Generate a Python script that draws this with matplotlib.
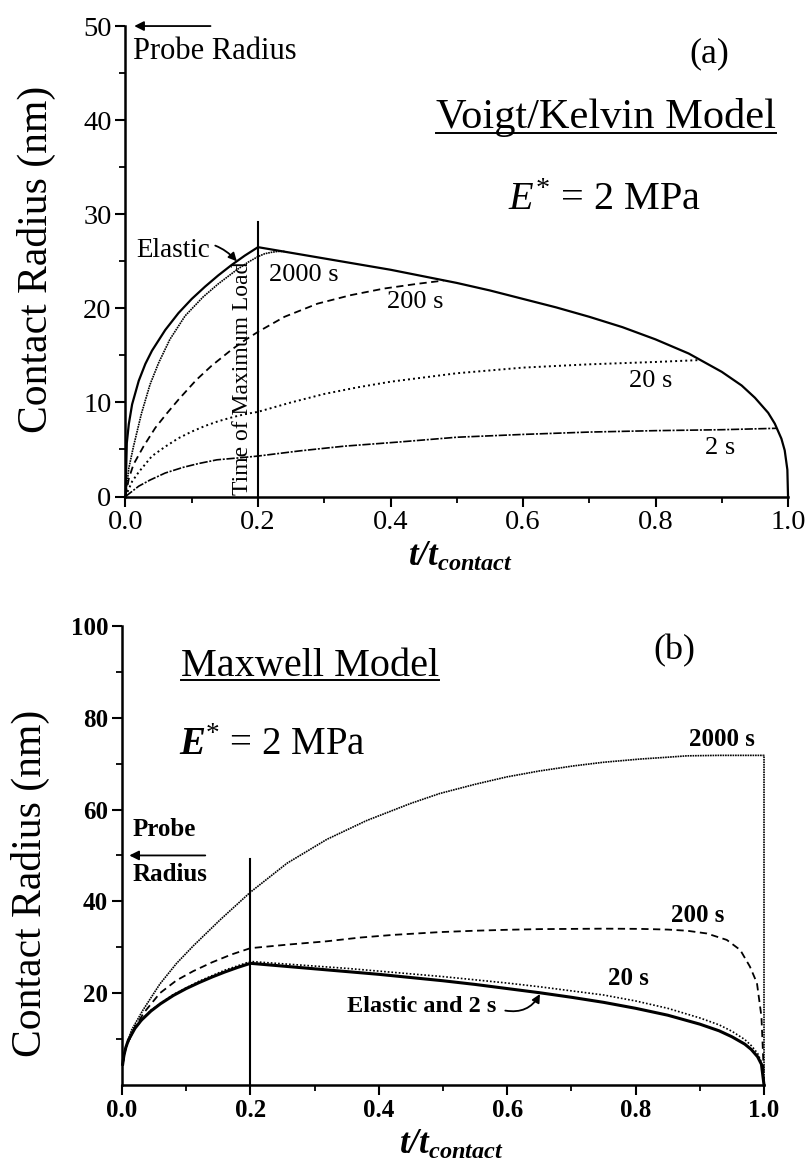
import matplotlib
matplotlib.use('Agg')
import matplotlib.pyplot as plt
from matplotlib.lines import Line2D
from matplotlib.ticker import MultipleLocator, FixedLocator

plt.rcParams['font.family'] = ['Liberation Serif', 'DejaVu Serif']
plt.rcParams['mathtext.fontset'] = 'custom'
plt.rcParams['mathtext.rm'] = 'Liberation Serif'
plt.rcParams['mathtext.it'] = 'Liberation Serif:italic'
plt.rcParams['mathtext.bf'] = 'Liberation Serif:bold'
plt.rcParams['mathtext.bfit'] = 'Liberation Serif:italic:bold'

# ---- (a) Voigt/Kelvin model ----
el_top_x = [0, 0.002, 0.005, 0.01, 0.02, 0.03, 0.04, 0.06, 0.08, 0.10,
            0.12, 0.14, 0.16, 0.18, 0.20, 0.25, 0.30, 0.35, 0.40, 0.45,
            0.50, 0.55, 0.60, 0.65, 0.70, 0.75, 0.80, 0.85, 0.90, 0.93,
            0.95, 0.97, 0.98, 0.99, 0.995, 0.999, 1.0]
el_top_y = [0, 5.7, 7.7, 9.8, 12.3, 14.1, 15.5, 17.7, 19.5, 21.0,
            22.3, 23.5, 24.6, 25.6, 26.5, 25.9, 25.3, 24.7, 24.1, 23.4,
            22.7, 21.9, 21.0, 20.1, 19.1, 18.0, 16.7, 15.2, 13.25, 11.8,
            10.5, 8.9, 7.75, 6.15, 4.9, 2.85, 0]

v2000_x = [0, 0.005, 0.012, 0.024, 0.037, 0.05, 0.067, 0.09, 0.117, 0.14,
           0.168, 0.185, 0.2, 0.21, 0.22, 0.23, 0.24]
v2000_y = [0, 3.0, 5.3, 8.8, 11.9, 14.2, 16.7, 19.2, 21.2, 22.6,
           24.1, 24.9, 25.5, 25.8, 25.95, 26.05, 26.05]

v200_x = [0, 0.005, 0.012, 0.027, 0.045, 0.062, 0.08, 0.107, 0.13, 0.16,
          0.18, 0.2, 0.24, 0.29, 0.34, 0.39, 0.44, 0.48]
v200_y = [0, 1.9, 3.4, 5.3, 7.3, 8.8, 10.3, 12.4, 13.9, 15.6,
          16.6, 17.5, 19.1, 20.5, 21.4, 22.1, 22.6, 22.95]

v20_x = [0, 0.01, 0.02, 0.04, 0.06, 0.08, 0.10, 0.12, 0.14, 0.16,
         0.18, 0.2, 0.25, 0.3, 0.35, 0.4, 0.5, 0.6, 0.7, 0.8, 0.867]
v20_y = [0, 1.6, 2.6, 4.3, 5.3, 6.2, 6.9, 7.5, 8.0, 8.4,
         8.75, 9.0, 10.0, 10.9, 11.6, 12.2, 13.1, 13.7, 14.05, 14.3, 14.5]

v2_x = [0, 0.02, 0.037, 0.06, 0.087, 0.11, 0.138, 0.17, 0.2, 0.263,
        0.33, 0.414, 0.5, 0.6, 0.7, 0.8, 0.9, 0.983]
v2_y = [0, 1.1, 1.75, 2.5, 3.1, 3.5, 3.9, 4.1, 4.3, 4.85,
        5.35, 5.8, 6.3, 6.6, 6.85, 7.0, 7.1, 7.25]

# ---- (b) Maxwell model ----
el_bot_x = [0.001, 0.003, 0.006, 0.01, 0.02, 0.03, 0.045, 0.06, 0.08, 0.10,
            0.12, 0.14, 0.16, 0.18, 0.20, 0.25, 0.30, 0.35, 0.40, 0.45,
            0.50, 0.55, 0.60, 0.65, 0.70, 0.75, 0.80, 0.85, 0.90, 0.93,
            0.95, 0.97, 0.98, 0.99, 0.996, 1.0]
el_bot_y = [4.5, 6.5, 8.2, 9.8, 12.3, 14.1, 16.1, 17.7, 19.5, 21.0,
            22.3, 23.5, 24.6, 25.6, 26.5, 25.9, 25.3, 24.7, 24.1, 23.4,
            22.7, 21.9, 21.0, 20.1, 19.1, 18.0, 16.7, 15.2, 13.25, 11.8,
            10.5, 8.9, 7.75, 6.15, 4.5, 0]

m20_x = [0.001, 0.006, 0.02, 0.045, 0.08, 0.12, 0.16, 0.20, 0.25, 0.30,
         0.35, 0.40, 0.45, 0.50, 0.55, 0.60, 0.65, 0.70, 0.75, 0.80,
         0.85, 0.90, 0.93, 0.95, 0.97, 0.98, 0.99, 0.996, 1.0]
m20_y = [4.5, 8.2, 12.4, 16.3, 19.7, 22.6, 25.0, 26.9, 26.4, 25.9,
         25.4, 24.8, 24.2, 23.6, 22.9, 22.2, 21.4, 20.5, 19.6, 18.3,
         16.7, 14.6, 13.1, 11.7, 9.9, 8.6, 6.9, 4.9, 0]

m200_x = [0.001, 0.006, 0.02, 0.035, 0.059, 0.085, 0.111, 0.14, 0.17, 0.20,
          0.26, 0.319, 0.37, 0.423, 0.495, 0.55, 0.599, 0.65, 0.703, 0.75,
          0.807, 0.85, 0.88, 0.911, 0.942, 0.963, 0.978, 0.989, 0.996, 0.999, 1.0]
m200_y = [4.5, 8.2, 12.6, 15.9, 20.0, 22.8, 24.8, 26.7, 28.4, 29.8,
          30.6, 31.3, 32.1, 32.7, 33.3, 33.6, 33.8, 33.95, 34.0, 34.05,
          34.0, 33.85, 33.6, 33.0, 31.6, 29.4, 25.8, 22.2, 14.9, 5.0, 0]

m2000_x = [0.001, 0.006, 0.015, 0.033, 0.059, 0.085, 0.111, 0.153, 0.20, 0.257,
           0.319, 0.381, 0.449, 0.495, 0.55, 0.599, 0.65, 0.703, 0.75, 0.807,
           0.85, 0.88, 0.93, 0.97, 1.0, 1.0]
m2000_y = [4.5, 8.3, 12.0, 16.4, 22.0, 26.5, 30.3, 36.0, 42.0, 48.3,
           53.5, 57.6, 61.3, 63.5, 65.5, 67.1, 68.4, 69.5, 70.3, 71.0,
           71.4, 71.7, 71.8, 71.8, 71.8, 0]

t_max_load = 0.2
probe_radius = 50
top_xticks = [0.0, 0.2, 0.4, 0.6, 0.8, 1.0]
top_yticks = [0, 10, 20, 30, 40, 50]
bot_yticks = [20, 40, 60, 80, 100]


def style_axes(ax, bold, size):
    for s in ['top', 'right']:
        ax.spines[s].set_visible(False)
    for s in ['left', 'bottom']:
        ax.spines[s].set_linewidth(1.8)
    ax.tick_params(which='major', direction='out', length=7, width=1.5,
                   labelsize=size, pad=3)
    ax.tick_params(which='minor', direction='out', length=4, width=1.3)
    ax.xaxis.set_minor_locator(MultipleLocator(0.1))
    ax.set_xticks(top_xticks)
    ax.set_xticklabels(['%.1f' % v for v in top_xticks])
    if bold:
        for lbl in ax.get_xticklabels() + ax.get_yticklabels():
            lbl.set_fontweight('bold')
    ax.set_xlim(0, 1.0)


fig = plt.figure(figsize=(8.06, 11.68), dpi=100)

# ================= panel (a) =================
ax1 = fig.add_axes([0.1557, 0.5749, 0.8220, 0.4028])
ax1.set_ylim(0, 50)
ax1.set_yticks(top_yticks)
ax1.yaxis.set_minor_locator(MultipleLocator(5))
style_axes(ax1, False, 20.5)

kw = dict(color='k', clip_on=False)
ax1.plot(el_top_x, el_top_y, lw=1.6, **kw)
ax1.plot(v2000_x, v2000_y, lw=1.2, ls=(0, (1, 0.5)), **kw)
ax1.plot(v200_x, v200_y, lw=1.3, ls=(0, (4, 2.5)), **kw)
ax1.plot(v20_x, v20_y, lw=1.4, ls=(0, (1, 1.6)), **kw)
ax1.plot(v2_x, v2_y, lw=1.2, ls=(0, (5, 1, 1.2, 1)), **kw)
ax1.plot([t_max_load, t_max_load], [0, 29.2], lw=1.5, color='k')

ax1.text(0.177, 0.2, 'Time of Maximum Load', rotation=90, ha='center',
         va='bottom', fontsize=17)
ax1.annotate('', xy=(0.009, probe_radius), xytext=(0.1325, probe_radius),
             arrowprops=dict(arrowstyle='-|>', lw=1.3, color='k',
                             mutation_scale=14), annotation_clip=False)
ax1.text(0.012, 46.5, 'Probe Radius', ha='left', va='baseline', fontsize=22)
ax1.annotate('Elastic', xy=(0.168, 25.0), xytext=(0.0717, 26.1),
             ha='center', va='center', fontsize=19.5,
             arrowprops=dict(arrowstyle='-|>', lw=1.3, color='k',
                             shrinkA=2, shrinkB=0, mutation_scale=12,
                             connectionstyle='arc3,rad=-0.4'))
ax1.text(0.2694, 23.5, '2000 s', ha='center', va='center', fontsize=19)
ax1.text(0.437, 20.7, '200 s', ha='center', va='center', fontsize=19)
ax1.text(0.7932, 12.3, '20 s', ha='center', va='center', fontsize=19)
ax1.text(0.8974, 5.15, '2 s', ha='center', va='center', fontsize=19)
ax1.text(0.881, 47.0, '(a)', ha='center', va='center', fontsize=26)
title1 = ax1.text(0.7253, 39.2, 'Voigt/Kelvin Model', ha='center',
                  va='baseline', fontsize=30.5)
ax1.text(0.7226, 30.5, r'$E^{*}$ = 2 MPa', ha='center', va='baseline',
         fontsize=29)

ax1.set_ylabel('Contact Radius (nm)', fontsize=30)
ax1.yaxis.set_label_coords(-0.105, 0.505)
ax1.set_xlabel(r'$\mathbfit{t/t}_{\mathbfit{contact}}$', fontsize=25)
ax1.xaxis.set_label_coords(0.505, -0.095)

# ================= panel (b) =================
ax2 = fig.add_axes([0.1514, 0.0711, 0.7965, 0.3930])
ax2.set_ylim(0, 100)
ax2.set_yticks(bot_yticks)
ax2.yaxis.set_minor_locator(FixedLocator([10, 30, 50, 70, 90]))
style_axes(ax2, True, 18)

ax2.plot(m2000_x, m2000_y, lw=1.2, ls=(0, (1, 0.5)), **kw)
ax2.plot(m200_x, m200_y, lw=1.3, ls=(0, (4, 2.5)), **kw)
ax2.plot(m20_x, m20_y, lw=1.2, ls=(0, (1, 1.2)), **kw)
ax2.plot(el_bot_x, el_bot_y, lw=2.2, **kw)
ax2.plot([t_max_load, t_max_load], [0, 49.2], lw=1.5, color='k')

ax2.annotate('', xy=(0.007, probe_radius), xytext=(0.134, probe_radius),
             arrowprops=dict(arrowstyle='-|>', lw=1.3, color='k',
                             mutation_scale=14), annotation_clip=False)
ax2.text(0.0171, 55.6, 'Probe', ha='left', va='center', fontsize=18,
         fontweight='bold')
ax2.text(0.0171, 45.75, 'Radius', ha='left', va='center', fontsize=18,
         fontweight='bold')
ax2.text(0.9346, 75.3, '2000 s', ha='center', va='center', fontsize=18,
         fontweight='bold')
ax2.text(0.8964, 36.9, '200 s', ha='center', va='center', fontsize=18,
         fontweight='bold')
ax2.text(0.789, 23.2, '20 s', ha='center', va='center', fontsize=18,
         fontweight='bold')
ax2.text(0.466, 17.0, 'Elastic and 2 s', ha='center', va='center',
         fontsize=17.5, fontweight='bold')
ax2.annotate('', xy=(0.651, 19.8), xytext=(0.597, 16.2),
             arrowprops=dict(arrowstyle='-|>', lw=1.3, color='k',
                             shrinkA=0, shrinkB=0, mutation_scale=12,
                             connectionstyle='arc3,rad=0.35'))
ax2.text(0.861, 94.6, '(b)', ha='center', va='center', fontsize=26)
title2 = ax2.text(0.293, 89.1, 'Maxwell Model', ha='center', va='baseline',
                  fontsize=29)
ax2.text(0.2336, 71.9, r'$\mathbfit{E}^{*}$ = 2 MPa', ha='center',
         va='baseline', fontsize=28)

ax2.set_ylabel('Contact Radius (nm)', fontsize=30)
ax2.yaxis.set_label_coords(-0.112, 0.44)
ax2.set_xlabel(r'$\mathbfit{t/t}_{\mathbfit{contact}}$', fontsize=25)
ax2.xaxis.set_label_coords(0.513, -0.095)

# underline the two model titles
fig.canvas.draw()
W, H = fig.bbox.width, fig.bbox.height
for ax, t, gap in [(ax1, title1, 5), (ax2, title2, 4)]:
    bb = t.get_window_extent()
    yb = ax.transData.transform(t.get_position())[1] - gap
    fig.add_artist(Line2D([bb.x0 / W, bb.x1 / W], [yb / H, yb / H],
                          transform=fig.transFigure, color='k', lw=1.4))

fig.savefig('out.png', dpi=100)
